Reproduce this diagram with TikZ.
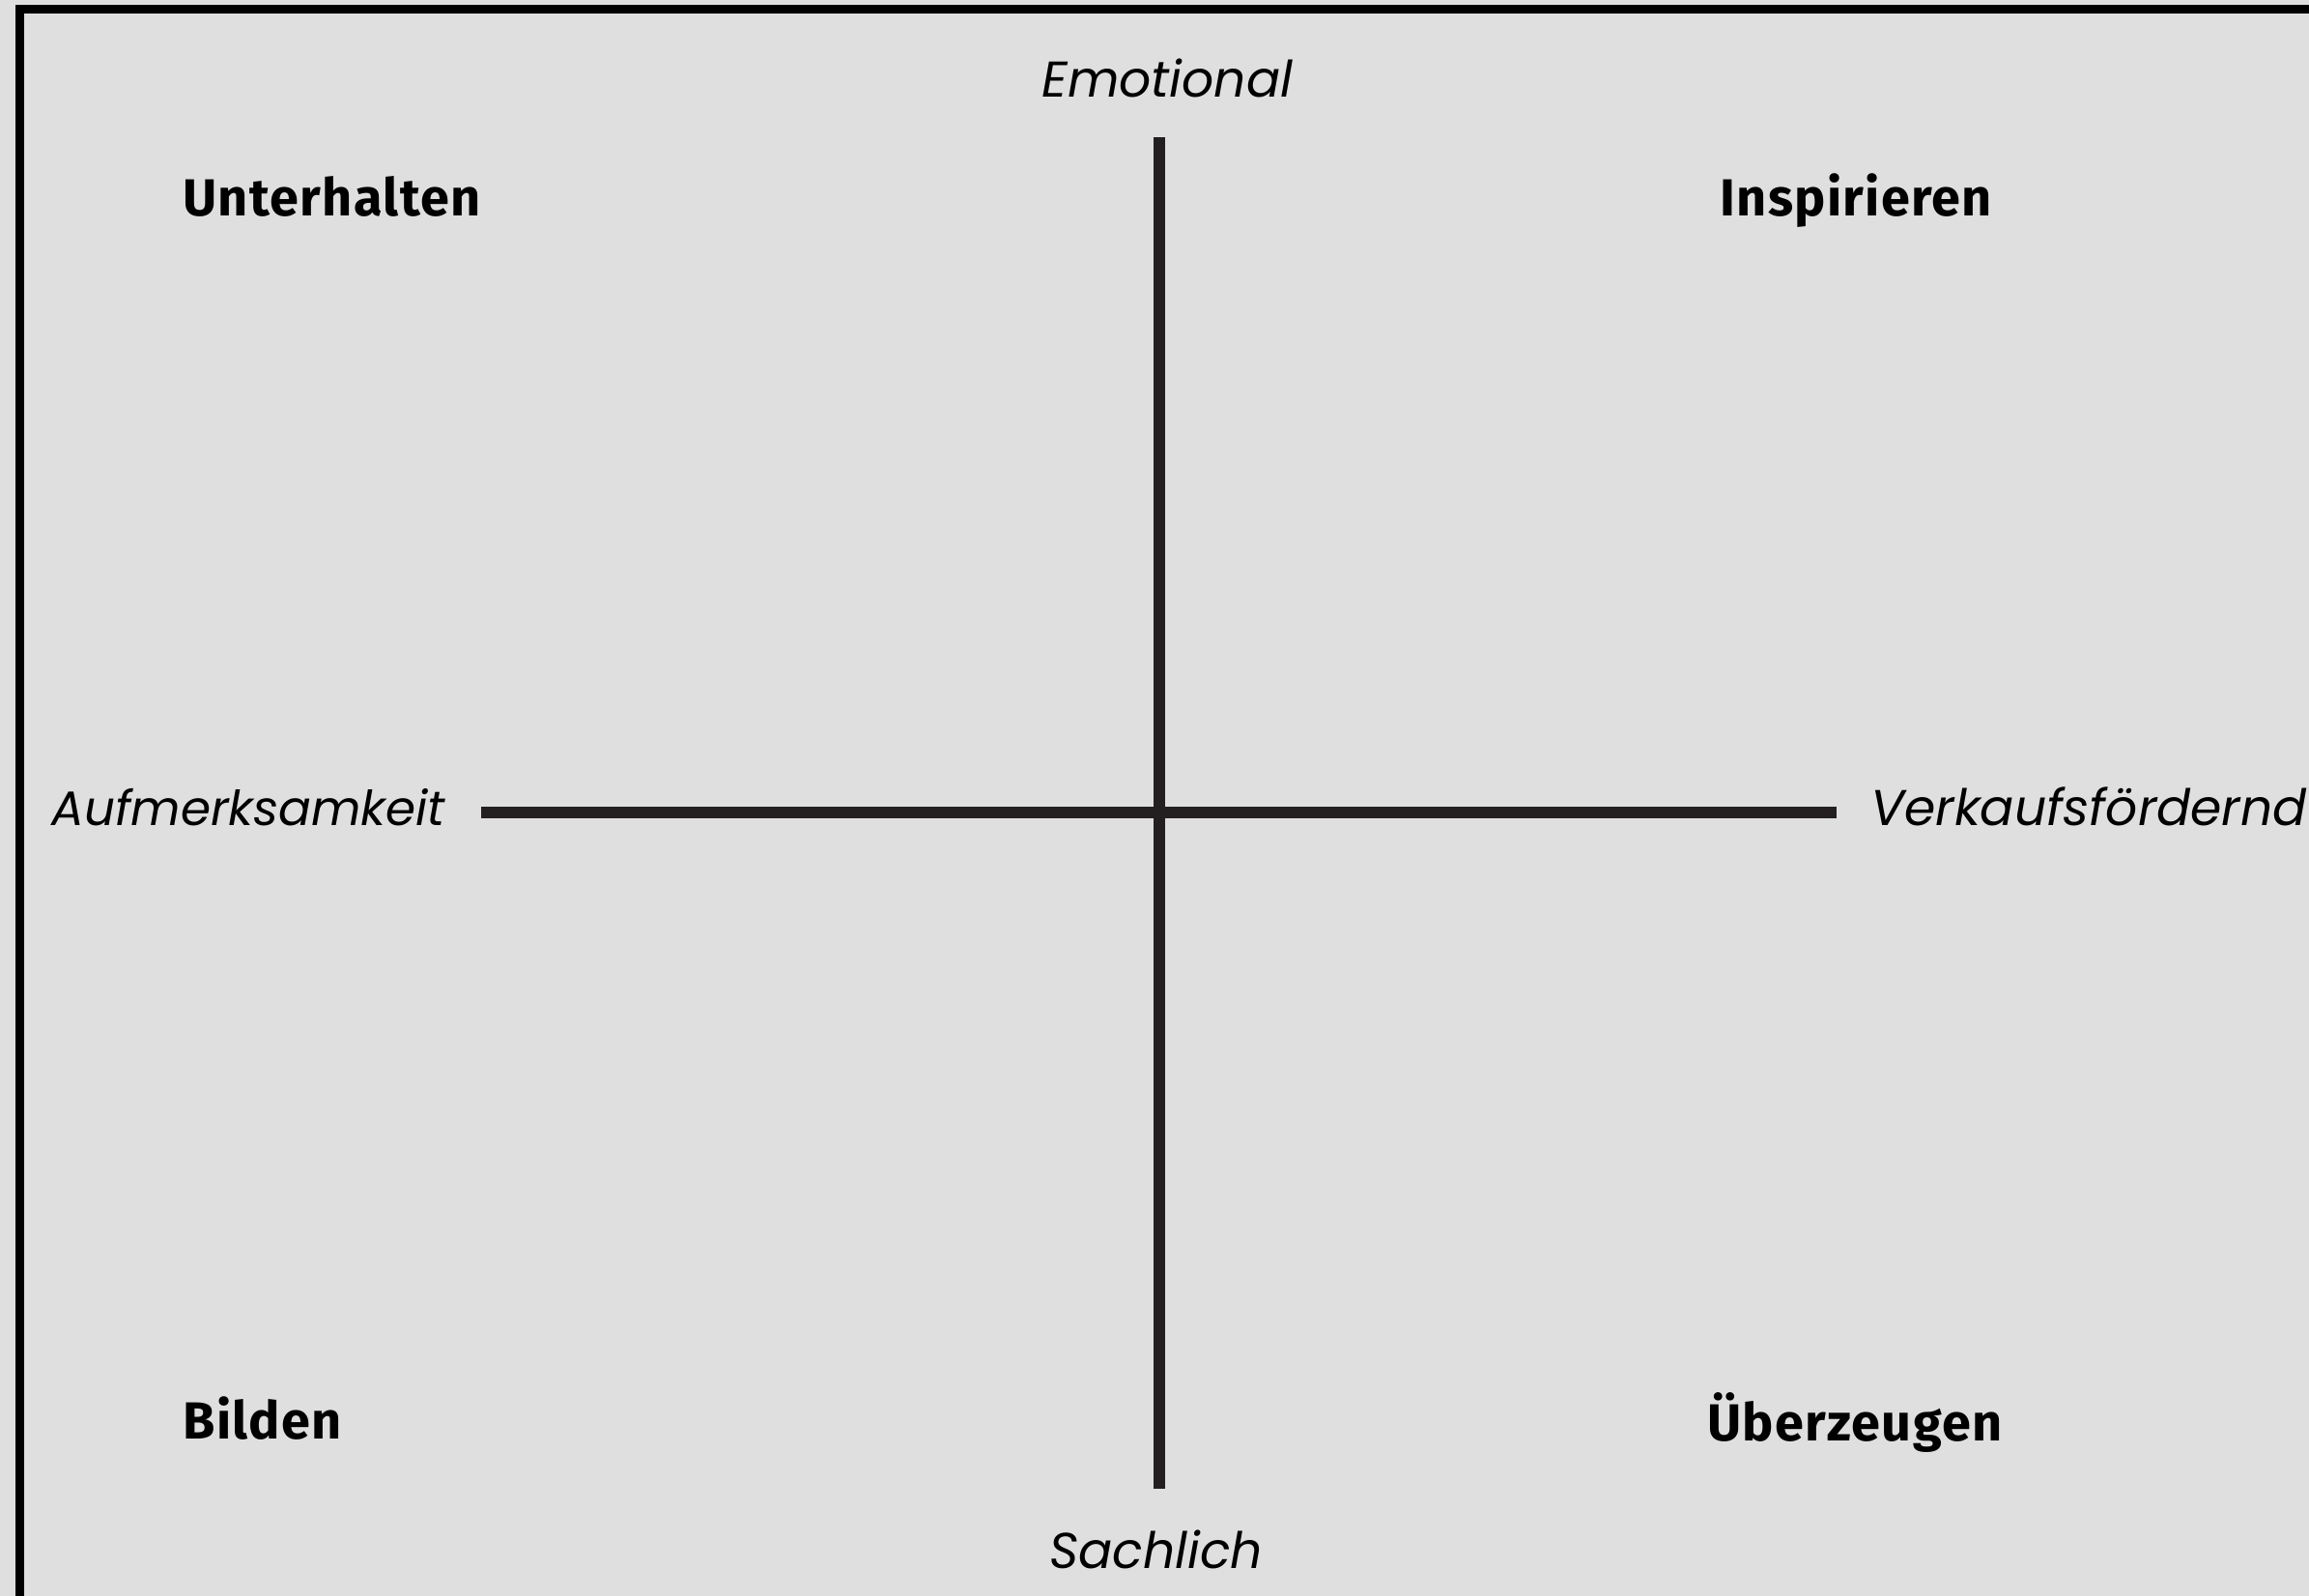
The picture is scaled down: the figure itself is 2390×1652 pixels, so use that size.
\documentclass[tikz,border=0pt]{standalone}
\usepackage{fontspec}
\setmainfont{Fira Sans}
\newfontfamily\quadfont[LetterSpace=2.5]{Fira Sans}
\newfontfamily\axisfont{Poppins}
\definecolor{bg}{HTML}{DFDFDF}
\definecolor{axiscol}{HTML}{231F20}
\begin{document}
\begin{tikzpicture}[x=0.5pt,y=-0.5pt,
  quadlabel/.style={anchor=base west,inner sep=0pt,font=\quadfont\fontsize{27}{32}\selectfont\bfseries},
  axislabel/.style={anchor=base west,inner sep=0pt,font=\axisfont\itshape\fontsize{26}{32}\selectfont},
  axisline/.style={line width=6pt,draw=axiscol}]
\fill[bg] (0,0) rectangle (2390,1652);
\useasboundingbox (0,0) rectangle (2390,1652);
\draw[line width=4.5pt,black] (20.5,1660) -- (20.5,10) -- (2400,10);
% axes
\coordinate (top) at (1199.5,142);
\coordinate (bot) at (1199.5,1541);
\coordinate (lft) at (498,841);
\coordinate (rgt) at (1901,841);
\draw[axisline] (lft) -- (rgt);
\draw[axisline] (top) -- (bot);
% quadrant labels
\node[quadlabel] (unt) at (189,224) {Unterhalten};
\node[quadlabel] (ins) at (1780,224) {Inspirieren};
\node[quadlabel] (bil) at (189,1489) {Bilden};
\node[quadlabel] (ueb) at (1767,1491) {Überzeugen};
% axis labels
\node[axislabel] (emo) at (1078,101) {Emotional};
\node[axislabel] (sac) at (1086,1623) {Sachlich};
\node[axislabel,font=\axisfont\itshape\fontsize{25}{30}\selectfont] (auf) at (53,855) {Aufmerksamkeit};
\node[axislabel] (ver) at (1936,855) {Verkaufsfördernd};
\end{tikzpicture}
\end{document}
